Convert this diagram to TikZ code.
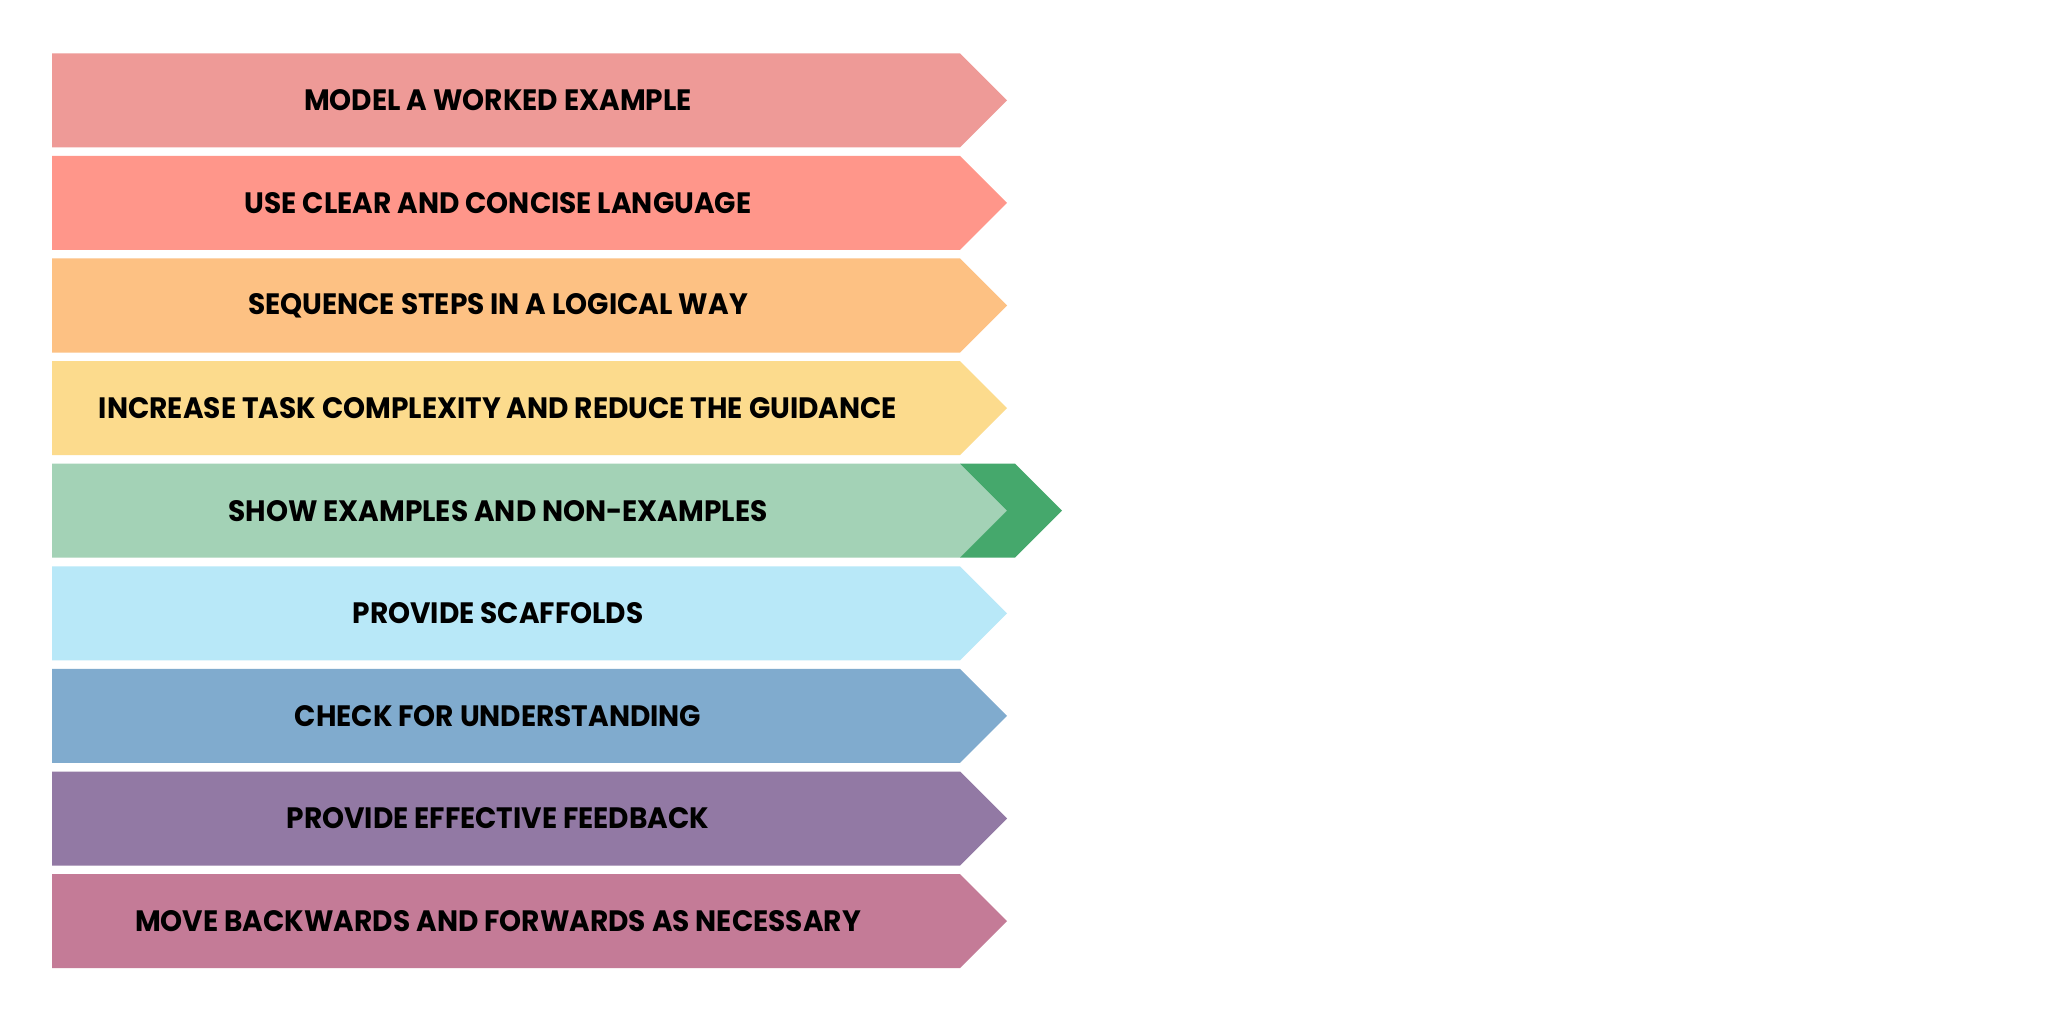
\documentclass[tikz,border=0pt]{standalone}
\usepackage{fontspec}
\setmainfont{Poppins}
\newcommand{\bandtext}[1]{\scalebox{0.95}[1]{#1}}
\begin{document}
\begin{tikzpicture}[x=1pt,y=-1pt]
  \tikzset{
    band/.style={fill=#1, draw=none},
    label/.style={font=\fontsize{29.5}{29.5}\selectfont\bfseries, text=black, anchor=center, inner sep=0pt}
  }
  \definecolor{c1}{HTML}{EE9A97}
  \definecolor{c2}{HTML}{FF968A}
  \definecolor{c3}{HTML}{FDC183}
  \definecolor{c4}{HTML}{FCDB8D}
  \definecolor{c5}{HTML}{A3D2B6}
  \definecolor{c6}{HTML}{B8E8F8}
  \definecolor{c7}{HTML}{80ABCE}
  \definecolor{c8}{HTML}{9279A4}
  \definecolor{c9}{HTML}{C47B97}
  \definecolor{chevgreen}{HTML}{45A86C}
  \useasboundingbox (0,0) rectangle (2048,1024);
  \fill[white] (0,0) rectangle (2048,1024);
  % nine arrow-shaped bands
  \foreach \i/\c/\t in {
    1/c1/MODEL A WORKED EXAMPLE,
    2/c2/USE CLEAR AND CONCISE LANGUAGE,
    3/c3/SEQUENCE STEPS IN A LOGICAL WAY,
    4/c4/INCREASE TASK COMPLEXITY AND REDUCE THE GUIDANCE,
    5/c5/SHOW EXAMPLES AND NON-EXAMPLES,
    6/c6/PROVIDE SCAFFOLDS,
    7/c7/CHECK FOR UNDERSTANDING,
    8/c8/PROVIDE EFFECTIVE FEEDBACK,
    9/c9/MOVE BACKWARDS AND FORWARDS AS NECESSARY}{
    \pgfmathsetmacro{\btop}{53.3+(\i-1)*102.6}
    \pgfmathsetmacro{\bbot}{\btop+94}
    \pgfmathsetmacro{\bmid}{\btop+47}
    \fill[band=\c] (52,\btop) -- (960,\btop) -- (1007,\bmid) -- (960,\bbot) -- (52,\bbot) -- cycle;
    \node[label] (t\i) at (498,\bmid) {\bandtext{\t}};
  }
  % highlight chevron on the fifth band
  \pgfmathsetmacro{\ctop}{53.3+4*102.6}
  \fill[chevgreen] (960,\ctop) -- (1015,\ctop) -- (1062,\ctop+47) -- (1015,\ctop+94)
    -- (960,\ctop+94) -- (1007,\ctop+47) -- cycle;
\end{tikzpicture}
\end{document}
